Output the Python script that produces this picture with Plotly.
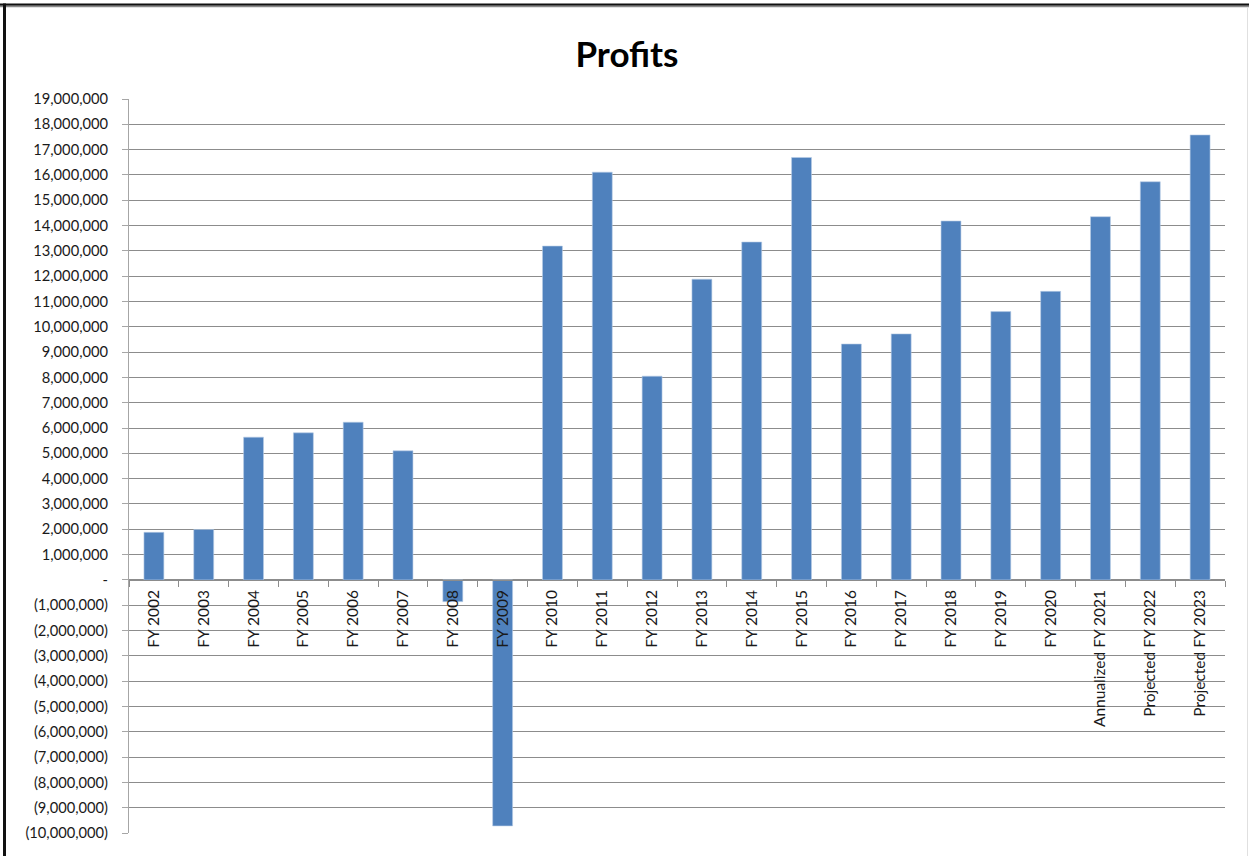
import plotly.graph_objects as go

categories = ["FY 2002", "FY 2003", "FY 2004", "FY 2005", "FY 2006", "FY 2007",
              "FY 2008", "FY 2009", "FY 2010", "FY 2011", "FY 2012", "FY 2013",
              "FY 2014", "FY 2015", "FY 2016", "FY 2017", "FY 2018", "FY 2019",
              "FY 2020", "Annualized FY 2021", "Projected FY 2022", "Projected FY 2023"]
profits = [1880000, 1990000, 5640000, 5810000, 6230000, 5100000,
           -860000, -9720000, 13190000, 16110000, 8050000, 11880000,
           13350000, 16690000, 9320000, 9720000, 14180000, 10600000,
           11400000, 14350000, 15730000, 17580000]
y_tick_values = list(range(-10000000, 19000001, 1000000))


def fmt(v):
    if v == 0:
        return "-"
    if v < 0:
        return "({:,})".format(-v)
    return "{:,}".format(v)


y_tick_text = [fmt(v) for v in y_tick_values]

W, H = 1249, 856
L, R, T, B = 129, 24, 99, 23
pw, ph = W - L - R, H - T - B

FONT = "Lato, 'Open Sans', sans-serif"

fig = go.Figure()
fig.add_trace(go.Bar(
    x=categories, y=profits,
    marker=dict(color="#4F81BD", line=dict(color="#B9CDE5", width=0.6)),
    width=0.4,
))


def px_x(p):
    return (p - L) / pw


def px_y(p):
    return (H - B - p) / ph


shapes = [
    # screenshot frame
    dict(type="line", xref="paper", yref="paper", x0=px_x(0), x1=px_x(W),
         y0=px_y(6.3), y1=px_y(6.3), line=dict(color="#8a8a8a", width=2)),
    dict(type="line", xref="paper", yref="paper", x0=px_x(0), x1=px_x(W),
         y0=px_y(4.5), y1=px_y(4.5), line=dict(color="#111111", width=2)),
    dict(type="line", xref="paper", yref="paper", x0=px_x(4.5), x1=px_x(4.5),
         y0=px_y(3.5), y1=px_y(H), line=dict(color="#111111", width=3)),
    dict(type="line", xref="paper", yref="paper", x0=px_x(1247.5), x1=px_x(1247.5),
         y0=px_y(7), y1=px_y(H), line=dict(color="#e0e0e0", width=1)),
]

fig.update_layout(
    width=W, height=H,
    margin=dict(l=L, r=R, t=T, b=B, pad=0),
    paper_bgcolor="white", plot_bgcolor="white",
    showlegend=False,
    bargap=0.6,
    title=dict(text="<b>Profits</b>", x=627 / W, xanchor="center",
               y=1 - 55 / H, yanchor="middle",
               font=dict(family=FONT, size=35, color="#000000")),
    font=dict(family=FONT, size=14.7, color="#1a1a1a"),
    shapes=shapes,
    xaxis=dict(
        type="category",
        anchor="free", position=10 / 29,
        showline=True, linecolor="#8c8c8c", linewidth=1,
        ticks="outside", tickson="boundaries", ticklen=6, tickcolor="#8c8c8c",
        tickangle=-90, showgrid=False, zeroline=False,
        ticklabelstandoff=3,
        tickfont=dict(family=FONT, size=15.5, color="#1a1a1a"),
        range=[-0.5, len(categories) - 0.5],
    ),
    yaxis=dict(
        range=[-10000000, 19000000],
        tickvals=y_tick_values, ticktext=y_tick_text,
        showgrid=True, gridcolor="#8c8c8c", gridwidth=1,
        zeroline=False,
        showline=True, linecolor="#a6a6a6", linewidth=1,
        ticks="outside", ticklen=6, tickcolor="#a6a6a6",
        ticklabelstandoff=11,
        tickfont=dict(family=FONT, size=14.7, color="#1a1a1a"),
    ),
)

fig.write_html("out.html",
               config={"displayModeBar": False},
               post_script="document.body.style.margin='0';document.body.style.overflow='hidden';")
